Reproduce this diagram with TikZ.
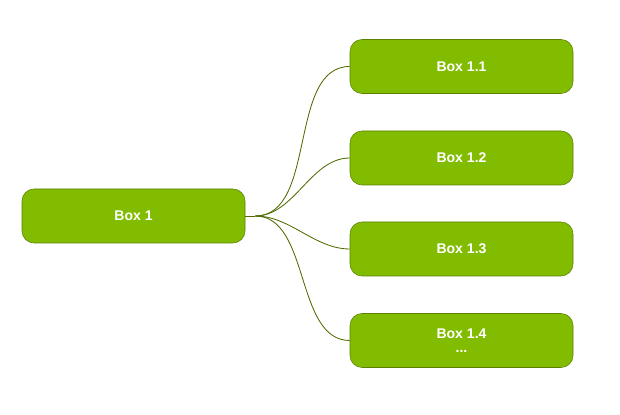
\documentclass[tikz,border=0pt]{standalone}
\usepackage{fontspec}
\setmainfont{Liberation Sans}
\usepackage{tikz}
\usetikzlibrary{positioning}
\usepackage{xcolor}
\definecolor{boxgreen}{HTML}{82BC00}
\definecolor{boxline}{HTML}{5A8200}
\definecolor{linkline}{HTML}{4F6B00}

\begin{document}
\begin{tikzpicture}[
    box/.style={draw=boxline, fill=boxgreen, rounded corners=0.3cm,
        minimum width=5.575cm, minimum height=1.35cm, text=white,
        font=\fontsize{10}{11}\selectfont\bfseries, align=center},
    link/.style={draw=linkline, line width=0.6pt}]
    \useasboundingbox (0,0) rectangle (15.5,10.375);

    % Root
    \node[box] (b1) at (3.3375,4.975) {Box 1};

    % Children
    \node[box] (b11) at (11.5375,8.7125) {Box 1.1};
    \node[box] (b12) at (11.5375,6.425) {Box 1.2};
    \node[box] (b13) at (11.5375,4.15) {Box 1.3};
    \node[box] (b14) at (11.5375,1.8625) {Box 1.4\\[-1pt]...};

    % Links
    \draw[link] (b1.east) -- ++(0.25,0) coordinate (hub);
    \foreach \n in {b11,b12,b13,b14}
        \draw[link] (hub) to[out=0, in=180, looseness=0.9] (\n.west);
\end{tikzpicture}
\end{document}
